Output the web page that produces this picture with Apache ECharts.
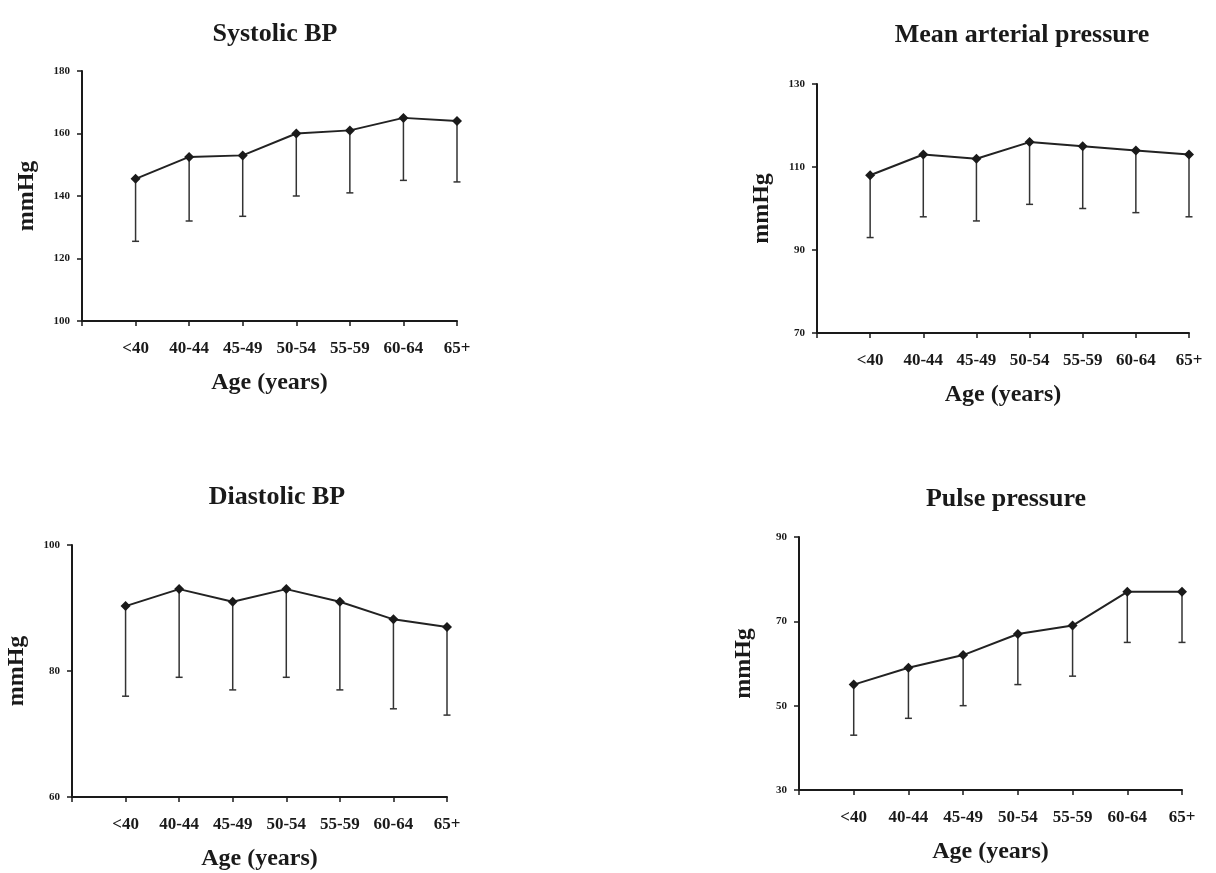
<!DOCTYPE html>
<html>
<head>
<meta charset="utf-8">
<script src="https://cdn.jsdelivr.net/npm/echarts@6/dist/echarts.min.js"></script>
<style>
  html, body { margin: 0; padding: 0; background: #fff; }
  #main { width: 1216px; height: 873px; }
</style>
</head>
<body>
<div id="main"></div>
<script>
const ages = ['<40', '40-44', '45-49', '50-54', '55-59', '60-64', '65+']

const systolicMean = [145.5, 152.5, 153, 160, 161, 165, 164]
const systolicLow = [125.5, 132, 133.5, 140, 141, 145, 144.5]
const mapMean = [108, 113, 112, 116, 115, 114, 113]
const mapLow = [93, 98, 97, 101, 100, 99, 98]
const diastolicMean = [90.3, 93, 91, 93, 91, 88.2, 87]
const diastolicLow = [76, 79, 77, 79, 77, 74, 73]
const pulseMean = [55, 59, 62, 67, 69, 77, 77]
const pulseLow = [43, 47, 50, 55, 57, 65, 65]

const systolicTicks = [100, 120, 140, 160, 180]
const mapTicks = [70, 90, 110, 130]
const diastolicTicks = [60, 80, 100]
const pulseTicks = [30, 50, 70, 90]

const font = 'Liberation Serif'
const ink = '#1a1a1a'

const panels = [
  { title: 'Systolic BP', cx: 270, ty: 16, mean: systolicMean, low: systolicLow, ticks: systolicTicks,
    grid: { left: 82, top: 71, width: 375, height: 250 } },
  { title: 'Mean arterial pressure', cx: 1017, ty: 17, mean: mapMean, low: mapLow, ticks: mapTicks,
    grid: { left: 817, top: 84, width: 372, height: 249 } },
  { title: 'Diastolic BP', cx: 272, ty: 479, mean: diastolicMean, low: diastolicLow, ticks: diastolicTicks,
    grid: { left: 72, top: 545, width: 375, height: 252 } },
  { title: 'Pulse pressure', cx: 1001, ty: 481, mean: pulseMean, low: pulseLow, ticks: pulseTicks,
    grid: { left: 799, top: 537, width: 383, height: 253 } }
]

function errorBar(params, api) {
  var x = api.value(0)
  var top = api.coord([x, api.value(1)])
  var bot = api.coord([x, api.value(2)])
  var st = { stroke: '#333', lineWidth: 1.5 }
  return {
    type: 'group',
    children: [
      { type: 'line', shape: { x1: top[0], y1: top[1], x2: bot[0], y2: bot[1] }, style: st },
      { type: 'line', shape: { x1: bot[0] - 3.5, y1: bot[1], x2: bot[0] + 3.5, y2: bot[1] }, style: st }
    ]
  }
}

const option = {
  animation: false,
  backgroundColor: '#fff',
  textStyle: { fontFamily: font },
  title: [],
  grid: [],
  xAxis: [],
  yAxis: [],
  series: []
}

panels.forEach(function (p, i) {
  option.title.push({
    text: p.title,
    left: p.cx,
    top: p.ty,
    textAlign: 'center',
    textStyle: { fontFamily: font, fontSize: 26, fontWeight: 'bold', color: ink }
  })
  option.grid.push(Object.assign({ outerBoundsMode: 'none', containLabel: false }, p.grid))
  option.xAxis.push({
    type: 'value',
    gridIndex: i,
    min: 0,
    max: 7,
    interval: 1,
    name: 'Age (years)',
    nameLocation: 'middle',
    nameGap: 50,
    nameTextStyle: { fontFamily: font, fontSize: 24, fontWeight: 'bold', color: ink },
    axisLine: { lineStyle: { color: ink, width: 2 } },
    axisTick: { length: 5, lineStyle: { color: ink, width: 1.5 } },
    axisLabel: {
      margin: 19,
      fontFamily: font,
      fontSize: 17,
      fontWeight: 'bold',
      color: ink,
      formatter: function (v) { return ages[v - 1] || '' }
    },
    splitLine: { show: false }
  })
  option.yAxis.push({
    type: 'value',
    gridIndex: i,
    min: p.ticks[0],
    max: p.ticks[p.ticks.length - 1],
    name: 'mmHg',
    nameLocation: 'middle',
    nameGap: 43,
    nameTextStyle: { fontFamily: font, fontSize: 24, fontWeight: 'bold', color: ink },
    axisLine: { show: true, lineStyle: { color: ink, width: 2 } },
    axisTick: { show: true, length: 5, customValues: p.ticks, lineStyle: { color: ink, width: 1.5 } },
    axisLabel: {
      margin: 12,
      fontFamily: font,
      fontSize: 11,
      fontWeight: 'bold',
      color: ink,
      customValues: p.ticks
    },
    splitLine: { show: false }
  })
  option.series.push({
    type: 'custom',
    xAxisIndex: i,
    yAxisIndex: i,
    renderItem: errorBar,
    encode: { x: 0, y: [1, 2] },
    data: p.mean.map(function (m, k) { return [k + 1, m, p.low[k]] }),
    z: 2
  })
  option.series.push({
    type: 'line',
    xAxisIndex: i,
    yAxisIndex: i,
    data: p.mean.map(function (m, k) { return [k + 1, m] }),
    symbol: 'diamond',
    symbolSize: 10,
    itemStyle: { color: ink },
    lineStyle: { color: '#222', width: 2 },
    z: 3
  })
})

var myChart = echarts.init(document.getElementById('main'))
myChart.setOption(option)
</script>
</body>
</html>
